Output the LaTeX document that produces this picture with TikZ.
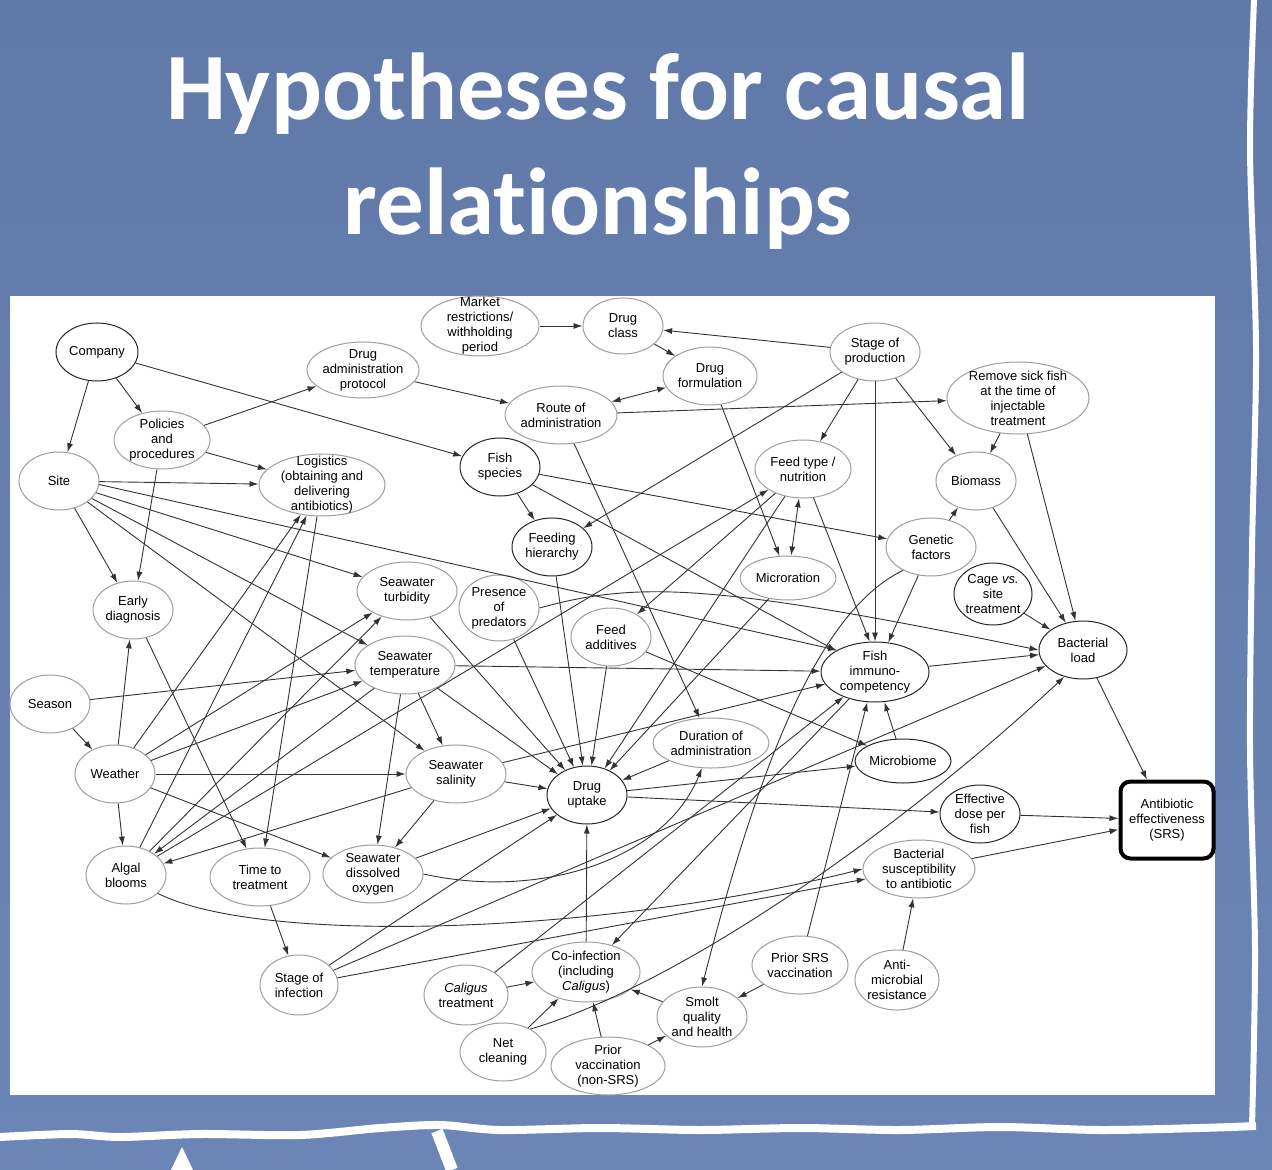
\documentclass[tikz,border=0pt]{standalone}
\usepackage{fontspec}
\setmainfont{Liberation Sans}
\newfontfamily\titlefont[Ligatures=NoCommon]{Carlito}
\usetikzlibrary{arrows.meta,shapes.geometric}
\definecolor{slideblue}{RGB}{96,121,168}
\definecolor{slidebluelow}{RGB}{107,134,182}
\definecolor{rimgray}{gray}{0.62}
\begin{document}
\begin{tikzpicture}[x=0.5pt, y=-0.5pt,
    nd/.style={ellipse, draw=rimgray, line width=0.5pt, inner sep=-12pt, align=center, font=\fontsize{6.5}{7.5}\selectfont},
    ndk/.style={nd, draw=black!85},
    arr/.style={-{Latex[length=4.5pt,width=3pt]}, line width=0.45pt, black!80},
    both/.style={{Latex[length=4.5pt,width=3pt]}-{Latex[length=4.5pt,width=3pt]}, line width=0.45pt, black!80},
    headline/.style={text=white, font=\titlefont\bfseries\fontsize{47.5}{57.5}\selectfont, anchor=base}]
\shade[top color=slideblue, bottom color=slidebluelow] (0,0) rectangle (1272,1170);
\useasboundingbox (0,0) rectangle (1272,1170);
\fill[white] (10,296) rectangle (1215,1095);
\draw[white, line width=4pt] plot[smooth] coordinates {(0,1137) (70,1134) (120,1137) (200,1134) (300,1135) (380,1128) (440,1125) (500,1130) (600,1128) (700,1130) (800,1128) (900,1130) (1000,1127) (1100,1130) (1200,1128) (1256,1126)};
\draw[white, line width=3pt] plot[smooth] coordinates {(1254,0) (1250,150) (1256,350) (1252,550) (1250,750) (1255,950) (1252,1126)};
\draw[white, line width=6pt] (437,1131) -- (452,1170);
\fill[white] (171,1170) -- (182,1147) -- (193,1170) -- cycle;

\node[headline] (title1) at (598,120) {Hypotheses for causal};
\node[headline] (title2) at (598,235) {relat\kern0pt ionships};

\node[ndk, minimum width=41pt, minimum height=29pt] (company) at (97,352) {Company};
\node[nd, minimum width=56pt, minimum height=28pt] (protocol) at (363,370) {Drug\\administration\\protocol};
\node[nd, minimum width=59pt, minimum height=30pt] (market) at (480,326) {Market\\restrictions/\\withholding\\period};
\node[nd, minimum width=40pt, minimum height=28pt] (drugclass) at (623,326) {Drug\\class};
\node[nd, minimum width=45pt, minimum height=29pt] (stageprod) at (875,352) {Stage of\\production};
\node[nd, minimum width=47pt, minimum height=29pt] (formulation) at (710,376) {Drug\\formulation};
\node[nd, minimum width=71pt, minimum height=36pt] (removesick) at (1018,398) {Remove sick fish\\at the time of\\injectable\\treatment};
\node[nd, minimum width=56pt, minimum height=29pt] (route) at (561,415) {Route of\\administration};
\node[nd, minimum width=48pt, minimum height=29pt] (policies) at (162,440) {Policies\\and\\procedures};
\node[nd, minimum width=40pt, minimum height=29pt] (site) at (59,481) {Site};
\node[nd, minimum width=63pt, minimum height=31pt] (logistics) at (322,485) {Logistics\\(obtaining and\\delivering\\antibiotics)};
\node[ndk, minimum width=40pt, minimum height=29pt] (fishsp) at (500,467) {Fish\\species};
\node[nd, minimum width=48pt, minimum height=29pt] (feedtype) at (803,469) {Feed type /\\nutrition};
\node[nd, minimum width=40pt, minimum height=29pt] (biomass) at (976,481) {Biomass};
\node[ndk, minimum width=40pt, minimum height=29pt] (feeding) at (552,547) {Feeding\\hierarchy};
\node[nd, minimum width=45pt, minimum height=29pt] (genetic) at (931,547) {Genetic\\factors};
\node[nd, minimum width=48pt, minimum height=22pt] (microration) at (788,578) {Microration};
\node[ndk, minimum width=39pt, minimum height=31pt] (cage) at (993,594) {Cage \textit{vs.}\\site\\treatment};
\node[nd, minimum width=40pt, minimum height=29pt] (early) at (133,610) {Early\\diagnosis};
\node[nd, minimum width=50pt, minimum height=29pt] (turbidity) at (407,591) {Seawater\\turbidity};
\node[nd, minimum width=40pt, minimum height=33pt] (predators) at (499,608) {Presence\\of\\predators};
\node[nd, minimum width=40pt, minimum height=29pt] (additives) at (611,637) {Feed\\additives};
\node[ndk, minimum width=54pt, minimum height=30pt] (immuno) at (875,672) {Fish\\immuno-\\competency};
\node[ndk, minimum width=44pt, minimum height=29pt] (bactload) at (1083,650) {Bacterial\\load};
\node[nd, minimum width=50pt, minimum height=29pt] (temperature) at (405,665) {Seawater\\temperature};
\node[nd, minimum width=40pt, minimum height=29pt] (season) at (50,704) {Season};
\node[nd, minimum width=58pt, minimum height=25pt] (duration) at (711,743) {Duration of\\administration};
\node[ndk, minimum width=48pt, minimum height=22pt] (microbiome) at (903,761) {Microbiome};
\node[nd, minimum width=40pt, minimum height=29pt] (weather) at (115,774) {Weather};
\node[nd, minimum width=50pt, minimum height=29pt] (salinity) at (456,774) {Seawater\\salinity};
\node[ndk, minimum width=40pt, minimum height=29pt] (uptake) at (587,795) {Drug\\uptake};
\node[ndk, minimum width=40pt, minimum height=29pt] (effdose) at (980,814) {Effective\\dose per\\fish};
\node[draw=black, line width=2pt, rounded corners=5pt, minimum width=46.5pt, minimum height=38.5pt, inner sep=0pt, align=center, font=\fontsize{6.5}{7.5}\selectfont] (antibiotic) at (1167,820) {Antibiotic\\effectiveness\\(SRS)};
\node[nd, minimum width=40pt, minimum height=29pt] (algal) at (126,875) {Algal\\blooms};
\node[nd, minimum width=50pt, minimum height=29pt] (timetreat) at (260,877) {Time to\\treatment};
\node[nd, minimum width=50pt, minimum height=29pt] (oxygen) at (373,874) {Seawater\\dissolved\\oxygen};
\node[nd, minimum width=56pt, minimum height=29pt] (suscept) at (919,869) {Bacterial\\susceptibility\\to antibiotic};
\node[nd, minimum width=39pt, minimum height=30pt] (stageinf) at (299,985) {Stage of\\infection};
\node[nd, minimum width=42pt, minimum height=30pt] (caligus) at (466,995) {\textit{Caligus}\\treatment};
\node[nd, minimum width=54pt, minimum height=30pt] (coinf) at (586,972) {Co-infection\\(including\\\textit{Caligus})};
\node[nd, minimum width=48pt, minimum height=29pt] (priorsrs) at (800,965) {Prior SRS\\vaccination};
\node[nd, minimum width=42pt, minimum height=30pt] (amr) at (897,980) {Anti-\\microbial\\resistance};
\node[nd, minimum width=45pt, minimum height=30pt] (smolt) at (702,1017) {Smolt\\quality\\and health};
\node[nd, minimum width=43pt, minimum height=29pt] (netclean) at (503,1052) {Net\\cleaning};
\node[nd, minimum width=57pt, minimum height=29pt] (priorvac) at (608,1066) {Prior\\vaccination\\(non-SRS)};

\draw[arr] (company) -- (site);
\draw[arr] (company) -- (policies);
\draw[arr] (company) -- (fishsp);
\draw[arr] (policies) -- (protocol);
\draw[arr] (policies) -- (logistics);
\draw[arr] (policies) -- (early);
\draw[arr] (site) -- (logistics);
\draw[arr] (site) -- (early);
\draw[arr] (site) -- (turbidity);
\draw[arr] (site) -- (temperature);
\draw[arr] (site) -- (salinity);
\draw[arr] (site.-5) -- (immuno.150);
\draw[arr] (protocol) -- (route);
\draw[arr] (market) -- (drugclass);
\draw[arr] (drugclass) -- (formulation);
\draw[arr] (stageprod) -- (drugclass);
\draw[both] (route) -- (formulation);
\draw[arr] (route) -- (removesick);
\draw[arr] (route) -- (duration);
\draw[arr] (formulation) -- (microration);
\draw[arr] (stageprod) -- (feeding);
\draw[arr] (stageprod) -- (feedtype);
\draw[arr] (stageprod) -- (immuno);
\draw[arr] (stageprod) -- (biomass);
\draw[arr] (removesick) -- (biomass);
\draw[arr] (removesick) -- (bactload);
\draw[arr] (biomass) -- (bactload);
\draw[arr] (genetic) -- (biomass);
\draw[arr] (genetic) -- (immuno);
\draw[arr] (genetic.220) .. controls (820,610) and (760,760) .. (smolt.north);
\draw[arr] (fishsp) -- (feeding);
\draw[arr] (fishsp) -- (genetic);
\draw[arr] (fishsp) -- (immuno);
\draw[both] (feedtype) -- (microration);
\draw[arr] (feedtype.-70) -- (immuno.100);
\draw[arr] (feedtype) -- (additives);
\draw[arr] (feedtype) -- (uptake);
\draw[arr] (microration) -- (uptake);
\draw[arr] (algal) -- (feedtype);
\draw[arr] (predators.east) .. controls (640,580) and (720,585) .. (bactload.west);
\draw[arr] (predators) -- (uptake);
\draw[arr] (feeding) -- (uptake);
\draw[arr] (additives) -- (uptake);
\draw[arr] (additives) -- (microbiome);
\draw[arr] (cage) -- (bactload);
\draw[arr] (immuno) -- (bactload);
\draw[arr] (bactload) -- (antibiotic);
\draw[arr] (effdose) -- (antibiotic);
\draw[arr] (suscept) -- (antibiotic);
\draw[arr] (microbiome) -- (immuno);
\draw[arr] (weather) -- (early);
\draw[arr] (weather) -- (logistics);
\draw[arr] (weather) -- (turbidity);
\draw[arr] (weather) -- (temperature);
\draw[arr] (weather) -- (salinity);
\draw[arr] (weather) -- (oxygen);
\draw[arr] (weather) -- (algal);
\draw[arr] (season) -- (weather);
\draw[arr] (season) -- (temperature);
\draw[arr] (algal) -- (logistics);
\draw[arr] (algal) -- (turbidity);
\draw[arr] (temperature) -- (algal);
\draw[arr] (salinity) -- (algal);
\draw[arr] (temperature) -- (salinity);
\draw[arr] (temperature) -- (oxygen);
\draw[arr] (temperature) -- (uptake);
\draw[arr] (temperature) -- (immuno);
\draw[arr] (salinity) -- (oxygen);
\draw[arr] (salinity) -- (uptake);
\draw[arr] (salinity) -- (immuno);
\draw[arr] (turbidity) -- (uptake);
\draw[arr] (duration) -- (uptake);
\draw[arr] (uptake) -- (effdose);
\draw[arr] (uptake) -- (microbiome);
\draw[arr] (early) -- (timetreat);
\draw[arr] (logistics) -- (timetreat);
\draw[arr] (timetreat) -- (stageinf);
\draw[arr] (stageinf) -- (uptake);
\draw[arr] (stageinf) -- (bactload);
\draw[arr] (stageinf) -- (suscept);
\draw[arr] (algal.-30) .. controls (260,945) and (600,935) .. (suscept.west);
\draw[arr] (oxygen) -- (uptake);
\draw[arr] (oxygen.east) .. controls (540,900) and (665,860) .. (duration.250);
\draw[arr] (caligus) -- (coinf);
\draw[arr] (caligus) -- (immuno);
\draw[arr] (coinf) -- (uptake);
\draw[arr] (immuno) -- (coinf);
\draw[arr] (netclean) -- (coinf);
\draw[arr] (netclean.40) .. controls (680,985) and (900,830) .. (bactload.235);
\draw[arr] (priorvac) -- (coinf);
\draw[arr] (priorvac) -- (smolt);
\draw[arr] (smolt) -- (coinf);
\draw[arr] (priorsrs) -- (smolt);
\draw[arr] (priorsrs) -- (immuno);
\draw[arr] (amr) -- (suscept);
\end{tikzpicture}
\end{document}
